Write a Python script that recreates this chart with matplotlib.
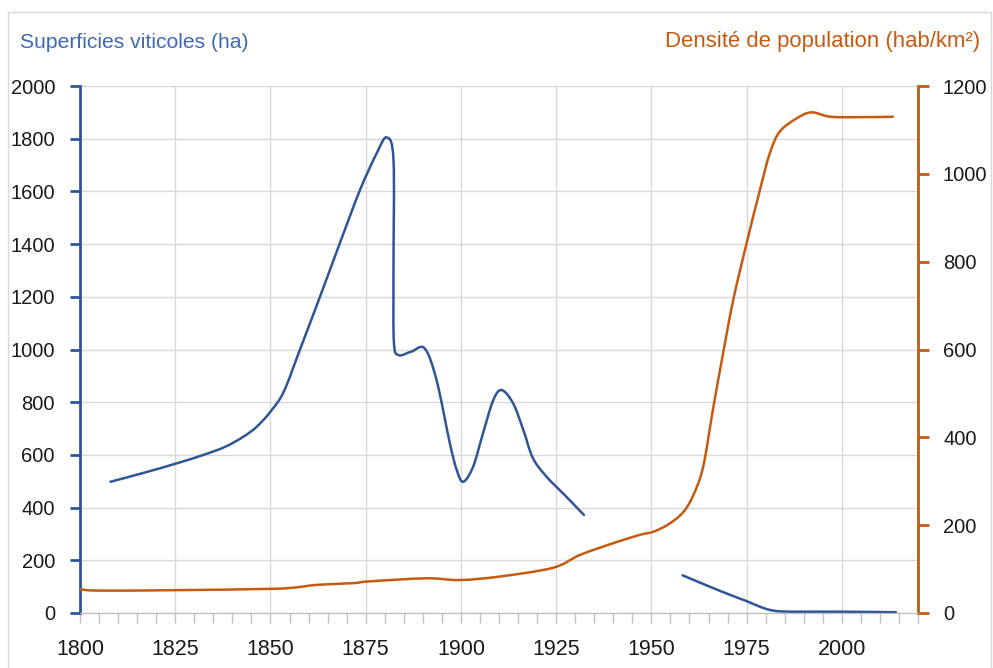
"""
plot.py: vineyard surface vs population density (smoothed lines, two y axes)
"""
import numpy as np
import matplotlib as mpl

mpl.use("Agg")
import matplotlib.pyplot as plt
from matplotlib.path import Path
from matplotlib.patches import PathPatch, Rectangle
from matplotlib.ticker import MultipleLocator

#
# --- colours
#
BLUE = "#2F5597"
BLUE_TXT = "#4068B4"
ORANGE = "#C55A11"
GRID = "#D9D9D9"
TXT = "#1A1A1A"

#
# --- viticulture surface (ha), two separate pieces of series
#
VITI_YEARS_1 = [1808, 1817, 1825.4, 1832.4, 1838, 1842.9, 1846.4, 1850, 1853.5,
                1857.7, 1863, 1868.2, 1873.5, 1877.9, 1880.5, 1882.3, 1882.3,
                1882.4, 1883.6, 1887, 1890.5, 1893.6, 1897.1, 1898.9, 1900.6,
                1903.2, 1905.8, 1908.5, 1910.7, 1913.7, 1916.4, 1918.9, 1922.5,
                1927.7, 1932.3]
VITI_HA_1 = [498, 533, 568, 600, 630, 669, 707, 764, 840,
             998, 1200, 1403, 1605, 1745, 1805, 1720, 1300,
             1030, 979, 992, 1004, 884, 644, 543, 498,
             555, 682, 808, 846, 796, 694, 588, 517,
             441, 372]

VITI_YEARS_2 = [1958.2, 1968, 1975, 1978.3, 1981, 1984, 1990, 2000, 2014.2]
VITI_HA_2 = [143, 84, 45, 25, 12, 6, 5, 5, 3]

#
# --- population density (hab/km2)
#
POP_YEARS = [1800, 1805, 1825, 1850, 1857, 1862, 1871.7, 1876, 1891, 1899.7,
             1910.2, 1924.2, 1931.2, 1940, 1947, 1950.5, 1954.5, 1958.3,
             1961, 1963.6, 1966.2, 1968.8, 1971.5, 1975, 1978.5,
             1981.1, 1983.7, 1988.1, 1992, 1997, 2004.6, 2013.4]
POP_DENS = [54, 51, 52, 55, 58.5, 64, 68, 72, 79, 75,
            83, 103, 132, 159, 178, 185, 202, 229,
            268, 333, 465, 590, 713, 842, 963,
            1047, 1096, 1126, 1140, 1130, 1129, 1130]

X_TICKS = [1800, 1825, 1850, 1875, 1900, 1925, 1950, 1975, 2000]


def smooth_path(xs, ys):
    """Cubic bezier path through the points (spreadsheet style smoothing)."""
    pts = np.column_stack([xs, ys]).astype(float)
    n = len(pts)
    verts = [pts[0]]
    codes = [Path.MOVETO]
    for i in range(n - 1):
        p0 = pts[i - 1] if i > 0 else pts[i]
        p1 = pts[i]
        p2 = pts[i + 1]
        p3 = pts[i + 2] if i + 2 < n else pts[i + 1]
        c1 = p1 + (p2 - p0) / 6.0
        c2 = p2 - (p3 - p1) / 6.0
        verts += [c1, c2, p2]
        codes += [Path.CURVE4] * 3
    return Path(verts, codes)


def add_line(ax, xs, ys, color):
    patch = PathPatch(smooth_path(xs, ys), fill=False, edgecolor=color,
                      lw=1.8, capstyle="round", joinstyle="round")
    ax.add_patch(patch)


fig = plt.figure(figsize=(9.93, 6.68), dpi=100)
#
# --- light chart border
#
fig.patches.append(Rectangle((8 / 993, -0.01), 983 / 993, 1 - 12 / 668 + 0.01,
                             transform=fig.transFigure, fill=False,
                             edgecolor=GRID, lw=1.0))

ax = fig.add_axes([80 / 993, 55 / 668, 838 / 993, 527 / 668])
ax2 = ax.twinx()

ax.set_xlim(1800, 2020)
ax.set_ylim(0, 2000)
ax2.set_ylim(0, 1200)

#
# --- ticks and grid
#
ax.set_xticks(X_TICKS)
ax.xaxis.set_minor_locator(MultipleLocator(5))
ax.yaxis.set_major_locator(MultipleLocator(200))
ax2.yaxis.set_major_locator(MultipleLocator(200))
ax.grid(True, which="major", color=GRID, lw=1.0)
ax.set_axisbelow(True)

ax.tick_params(axis="x", which="both", direction="out", length=7,
               color="#BFBFBF", width=1.0, pad=12, labelcolor=TXT,
               labelsize=15.5)
ax.tick_params(axis="y", direction="out", length=7, color=BLUE, width=2,
               pad=11, labelsize=14.5, labelcolor=TXT)
ax2.tick_params(axis="y", direction="out", length=8, color=ORANGE, width=2,
                pad=10, labelsize=14.5, labelcolor=TXT)
for lab in ax.get_xticklabels() + ax.get_yticklabels() + ax2.get_yticklabels():
    lab.set_fontfamily("Liberation Sans")

for a in (ax, ax2):
    a.spines["top"].set_visible(False)
    a.spines["bottom"].set_color("#BFBFBF")
ax.spines["right"].set_visible(False)
ax.spines["left"].set_color(BLUE)
ax.spines["left"].set_linewidth(2)
ax2.spines["left"].set_visible(False)
ax2.spines["right"].set_color(ORANGE)
ax2.spines["right"].set_linewidth(2)

#
# --- lines
#
add_line(ax, VITI_YEARS_1, VITI_HA_1, BLUE)
add_line(ax, VITI_YEARS_2, VITI_HA_2, BLUE)
add_line(ax2, POP_YEARS, POP_DENS, ORANGE)

#
# --- axis titles above the plot
#
fig.text(20 / 993, 1 - 42 / 668, "Superficies viticoles (ha)", color=BLUE_TXT,
         fontsize=15.2, family="Liberation Sans", ha="left", va="center")
fig.text(980 / 993, 1 - 42 / 668, "Densité de population (hab/km²)",
         color=ORANGE, fontsize=15.9, family="Liberation Sans", ha="right",
         va="center")

fig.savefig("out.png", dpi=100)
